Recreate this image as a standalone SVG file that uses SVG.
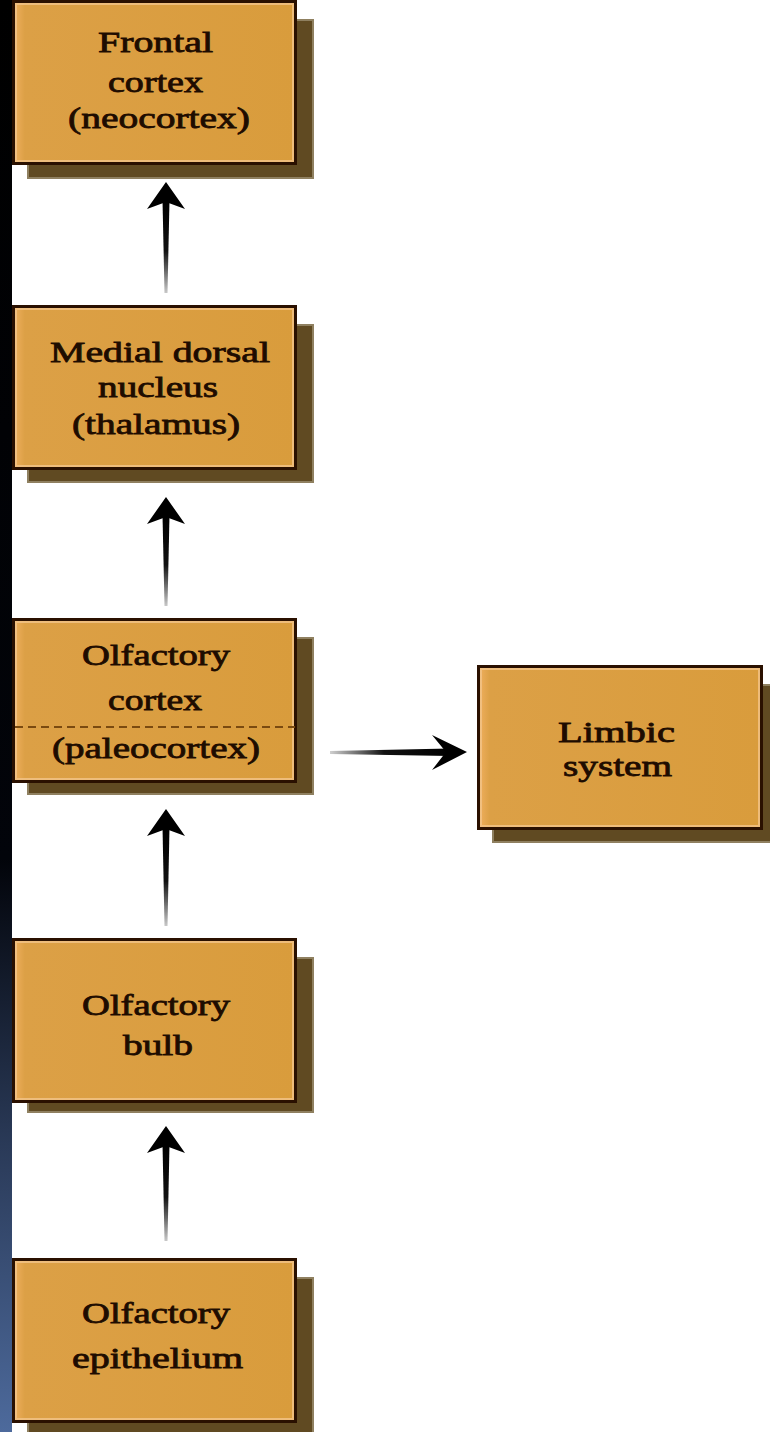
<svg xmlns="http://www.w3.org/2000/svg" width="770" height="1432" viewBox="0 0 770 1432">
<defs>
<linearGradient id="strip" x1="0" y1="0" x2="0" y2="1">
<stop offset="0" stop-color="#000000"/>
<stop offset="0.6" stop-color="#02040a"/>
<stop offset="0.8" stop-color="#2a3a58"/>
<stop offset="1" stop-color="#4d6a9c"/>
</linearGradient>
<linearGradient id="shaftV" x1="0" y1="0" x2="0" y2="1">
<stop offset="0" stop-color="#000"/>
<stop offset="0.55" stop-color="#111"/>
<stop offset="1" stop-color="#c8c8c8"/>
</linearGradient>
<linearGradient id="shaftH" x1="1" y1="0" x2="0" y2="0">
<stop offset="0" stop-color="#000"/>
<stop offset="0.55" stop-color="#111"/>
<stop offset="1" stop-color="#d0d0d0"/>
</linearGradient>
<linearGradient id="fillG" x1="0" y1="0" x2="1" y2="0">
<stop offset="0" stop-color="#f0b060"/>
<stop offset="0.04" stop-color="#dca046"/>
<stop offset="1" stop-color="#d99c3c"/>
</linearGradient>
</defs>
<style>
.shadow{fill:#604a22;stroke:#8f8060;stroke-width:2}
.box{fill:url(#fillG);stroke:#2a1000;stroke-width:3}
.hl{fill:none;stroke:#f3c48a;stroke-width:2;opacity:0.8}
.lbl{font-family:"Liberation Serif","Times New Roman",serif;font-size:29px;fill:#1e0c00;stroke:#1e0c00;stroke-width:0.8}
.dash{stroke:#7a4a10;stroke-width:2;stroke-dasharray:8 5}
.head{fill:#000}
</style>
<rect x="0" y="0" width="770" height="1432" fill="#ffffff"/>
<rect x="0" y="0" width="12" height="1432" fill="url(#strip)"/>

<g id="connectors">
<path d="M162.5,200 L169.5,200 L167.5,293 L164.5,293 Z" fill="url(#shaftV)"/>
<path class="head" d="M166,182 L185,209 L166,202 L147,209 Z"/>
<path d="M162.5,515 L169.5,515 L167.5,606 L164.5,606 Z" fill="url(#shaftV)"/>
<path class="head" d="M166,497 L185,524 L166,517 L147,524 Z"/>
<path d="M162.5,827 L169.5,827 L167.5,926 L164.5,926 Z" fill="url(#shaftV)"/>
<path class="head" d="M166,809 L185,836 L166,829 L147,836 Z"/>
<path d="M162.5,1144 L169.5,1144 L167.5,1241 L164.5,1241 Z" fill="url(#shaftV)"/>
<path class="head" d="M166,1126 L185,1153 L166,1146 L147,1153 Z"/>
<path d="M450,748.5 L450,756 L330,754 L330,751 Z" fill="url(#shaftH)"/>
<path class="head" d="M467,752 L432,735 L446,752 L432,770 Z"/>
</g>

<g id="frontal">
<rect class="shadow" x="28" y="20" width="285" height="158"/>
<rect class="box" x="13.5" y="1.5" width="282" height="162"/>
<rect class="hl" x="16" y="4" width="277" height="157"/>
<text class="lbl" x="98" y="52" textLength="115" lengthAdjust="spacingAndGlyphs">Frontal</text>
<text class="lbl" x="108" y="92" textLength="95" lengthAdjust="spacingAndGlyphs">cortex</text>
<text class="lbl" x="68" y="128" textLength="182" lengthAdjust="spacingAndGlyphs">(neocortex)</text>
</g>

<g id="medial">
<rect class="shadow" x="28" y="325" width="285" height="157"/>
<rect class="box" x="13.5" y="306.5" width="282" height="162"/>
<rect class="hl" x="16" y="309" width="277" height="157"/>
<text class="lbl" x="50" y="362" textLength="220" lengthAdjust="spacingAndGlyphs">Medial dorsal</text>
<text class="lbl" x="98" y="397" textLength="120" lengthAdjust="spacingAndGlyphs">nucleus</text>
<text class="lbl" x="72" y="434" textLength="168" lengthAdjust="spacingAndGlyphs">(thalamus)</text>
</g>

<g id="olfcortex">
<rect class="shadow" x="28" y="638" width="285" height="156"/>
<rect class="box" x="13.5" y="619.5" width="282" height="162"/>
<rect class="hl" x="16" y="622" width="277" height="157"/>
<line class="dash" x1="15" y1="727" x2="295" y2="727"/>
<text class="lbl" x="82" y="665" textLength="148" lengthAdjust="spacingAndGlyphs">Olfactory</text>
<text class="lbl" x="108" y="710" textLength="94" lengthAdjust="spacingAndGlyphs">cortex</text>
<text class="lbl" x="52" y="758" textLength="208" lengthAdjust="spacingAndGlyphs">(paleocortex)</text>
</g>

<g id="limbic">
<rect class="shadow" x="493" y="685" width="287" height="157"/>
<rect class="box" x="478.5" y="666.5" width="283" height="162"/>
<rect class="hl" x="481" y="669" width="278" height="157"/>
<text class="lbl" x="558" y="742" textLength="117" lengthAdjust="spacingAndGlyphs">Limbic</text>
<text class="lbl" x="563" y="776" textLength="109" lengthAdjust="spacingAndGlyphs">system</text>
</g>

<g id="bulb">
<rect class="shadow" x="28" y="958" width="285" height="154"/>
<rect class="box" x="13.5" y="939.5" width="282" height="162"/>
<rect class="hl" x="16" y="942" width="277" height="157"/>
<text class="lbl" x="82" y="1015" textLength="148" lengthAdjust="spacingAndGlyphs">Olfactory</text>
<text class="lbl" x="123" y="1055" textLength="70" lengthAdjust="spacingAndGlyphs">bulb</text>
</g>

<g id="epithelium">
<rect class="shadow" x="28" y="1278" width="285" height="160"/>
<rect class="box" x="13.5" y="1259.5" width="282" height="162"/>
<rect class="hl" x="16" y="1262" width="277" height="157"/>
<text class="lbl" x="82" y="1323" textLength="148" lengthAdjust="spacingAndGlyphs">Olfactory</text>
<text class="lbl" x="72" y="1368" textLength="171" lengthAdjust="spacingAndGlyphs">epithelium</text>
</g>
</svg>
